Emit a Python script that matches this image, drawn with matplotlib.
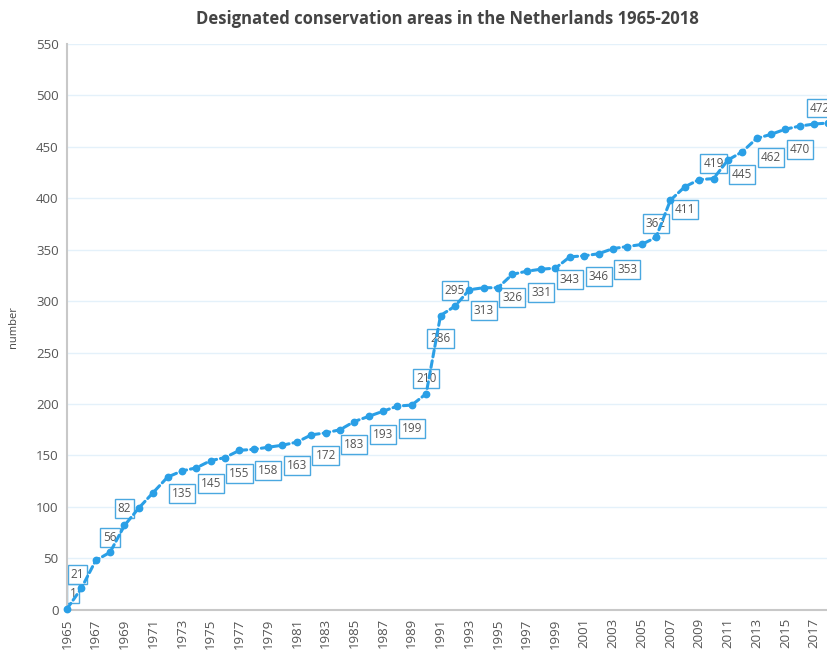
import matplotlib.pyplot as plt

plt.rcParams['font.family'] = ['Open Sans', 'DejaVu Sans']

years = list(range(1965, 2019))
counts = [1, 21, 48, 56, 82, 99, 114, 129, 135, 138,
          145, 148, 155, 156, 158, 160, 163, 170, 172, 175,
          183, 188, 193, 198, 199, 210, 286, 295, 311, 313,
          313, 326, 329, 331, 332, 343, 344, 346, 351, 353,
          355, 362, 398, 411, 418, 419, 437, 445, 458, 462,
          467, 470, 472, 473]

# years that carry a value box
label_years = [1965, 1966, 1968, 1969, 1973, 1975, 1977, 1979, 1981, 1983,
               1985, 1987, 1989, 1990, 1991, 1992, 1994, 1996, 1998, 2000,
               2002, 2004, 2006, 2008, 2010, 2012, 2014, 2016, 2017]

# box offsets in pixels (dx, dy)
offsets = {1965: (6, 15), 1966: (-4, 14), 1968: (0, 15), 1969: (0, 17),
           1990: (0, 15), 1992: (0, 16), 2006: (0, 14), 2010: (0, 15),
           2017: (6, 16)}

blue = '#2a9fe6'
fig = plt.figure(figsize=(8.27, 6.53), dpi=100)
ax = fig.add_axes([0.081, 0.066, 0.919, 0.867])

ax.plot(years, counts, color=blue, lw=2.2, dashes=(2.2, 1.3),
        dash_capstyle='round', marker='o', markersize=4.6, zorder=3,
        clip_on=False)

for yr in label_years:
    v = counts[years.index(yr)]
    dx, dy = offsets.get(yr, (0, -23))
    ax.annotate(str(v), (yr, v), xytext=(dx, dy), textcoords='offset pixels',
                ha='center', va='center', fontsize=8.5, color='#555555',
                bbox=dict(boxstyle='square,pad=0.25', fc=(1, 1, 1, 0.75),
                          ec='#4aa8e0', lw=1), zorder=2, annotation_clip=False)

ax.set_xlim(1965, 2017.9)
ax.set_ylim(0, 550)
ax.set_xticks(range(1965, 2018, 2))
ax.set_xticklabels([str(y) for y in range(1965, 2018, 2)], rotation=90)
ax.set_yticks(range(0, 551, 50))
ax.tick_params(length=0, labelsize=9.5, labelcolor='#555555', pad=6)
ax.grid(axis='y', color='#e4f1fa', lw=1)
ax.set_axisbelow(True)
for s in ['top', 'right']:
    ax.spines[s].set_visible(False)
for s in ['left', 'bottom']:
    ax.spines[s].set_color('#c8c8c8')
    ax.spines[s].set_linewidth(1.5)

ax.set_ylabel('number', fontsize=8, color='#444444', labelpad=12)
ax.set_title('Designated conservation areas in the Netherlands 1965-2018',
             fontsize=12, fontweight='bold', color='#444444', pad=14)

fig.savefig('out.png', dpi=100)
